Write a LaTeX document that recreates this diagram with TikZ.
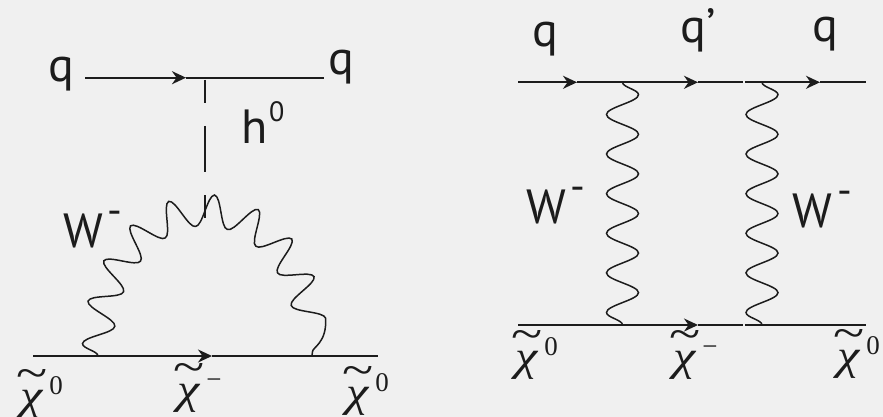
\RequirePackage{fix-cm}
\documentclass[tikz,border=0pt]{standalone}
\usepackage{fontspec}
\setmainfont{PT Sans}
\newfontfamily\chifont{Liberation Serif}
\usetikzlibrary{arrows.meta, decorations.pathmorphing}
\definecolor{PageGrey}{RGB}{240, 240, 240}
\definecolor{LineDark}{RGB}{28, 28, 28}
\newcommand{\wminus}{W\hspace{5pt}\raisebox{23pt}{\fontsize{41}{43}\selectfont -}}
\newcommand{\hzero}{h\hspace{1pt}\raisebox{21pt}{\fontsize{28}{30}\selectfont 0}}
\newcommand{\chisym}[2]{\makebox[25pt][c]{\scalebox{1.2}[1]{\itshape χ}}\llap{\makebox[25pt][c]{\raisebox{21pt}{\scalebox{1.25}[1]{\fontsize{46}{48}\selectfont\char"7E}}}}\hspace{5pt}\raisebox{#2}{\fontsize{27}{30}\selectfont #1}}

\begin{document}
\begin{tikzpicture}[x=1pt, y=-1pt, >={Stealth[length=14pt, width=13pt]},
    fermion/.style={line width=2pt, LineDark},
    wboson/.style={line width=1.5pt, LineDark, decorate, decoration={snake, amplitude=16pt, segment length=39.6pt}},
    higgs/.style={line width=1.6pt, LineDark, dash pattern=on 46pt off 23pt, dash phase=23pt},
    lbl/.style={inner sep=0pt, anchor=base, text=LineDark, font=\fontsize{48}{50}\selectfont},
    chilbl/.style={inner sep=0pt, anchor=base, text=LineDark, font=\chifont\fontsize{42}{46}\selectfont}]
    \useasboundingbox (0,0) rectangle (883,417);
    \fill[PageGrey] (0,0) rectangle (883,417);

    % Left graph
    \coordinate (qin) at (85,77.7);
    \coordinate (qtip) at (186,77.7);
    \coordinate (qout) at (324,77.7);
    \coordinate (hup) at (205,80);
    \coordinate (hlow) at (205,218);
    \coordinate (cin) at (33,356);
    \coordinate (ctip) at (212,356);
    \coordinate (cout) at (378,356);
    \coordinate (wleft) at (98,356);
    \coordinate (wtop) at (205,220);
    \coordinate (wright) at (312,356);
    \draw[fermion, ->] (qin) -- (qtip);
    \draw[fermion] (qtip) -- (qout);
    \draw[higgs] (hup) -- (hlow);
    \draw[fermion, ->] (cin) -- (ctip);
    \draw[fermion] (ctip) -- (cout);
    \draw[wboson, decoration={amplitude=15.5pt, segment length=39.4pt}] (wleft) .. controls +(0,-75) and +(-59,0) .. (wtop) .. controls +(59,0) and +(0,-75) .. (wright);
    \node[lbl] (qa) at (61,82) {q};
    \node[lbl] (qb) at (341,75) {q};
    \node[lbl] (hz) at (263,143) {\hzero};
    \node[lbl] (wa) at (93,247) {\wminus};
    \node[chilbl] (ca) at (41,409) {\chisym{0}{15pt}};
    \node[chilbl] (cb) at (199,403) {\chisym{−}{15pt}};
    \node[chilbl] (cc) at (367,406) {\chisym{0}{15pt}};

    % Right graph
    \coordinate (ula) at (518,82.3);
    \coordinate (utipa) at (577,82.3);
    \coordinate (utipb) at (698,82.3);
    \coordinate (umid) at (743,82.3);
    \coordinate (umidb) at (745,82.3);
    \coordinate (utipc) at (820,82.3);
    \coordinate (ura) at (866,82.3);
    \coordinate (lla) at (518,325);
    \coordinate (ltip) at (698,325);
    \coordinate (lmid) at (743,325);
    \coordinate (lmidb) at (745,325);
    \coordinate (lra) at (866,325);
    \coordinate (wua) at (622.5,82.3);
    \coordinate (wla) at (622.5,325);
    \coordinate (wub) at (762,82.3);
    \coordinate (wlb) at (762,325);
    \draw[fermion, ->] (ula) -- (utipa);
    \draw[fermion, ->] (utipa) -- (utipb);
    \draw[fermion] (utipb) -- (umid);
    \draw[fermion, ->] (umidb) -- (utipc);
    \draw[fermion] (utipc) -- (ura);
    \draw[fermion, ->] (lla) -- (ltip);
    \draw[fermion] (ltip) -- (lmid);
    \draw[fermion] (lmidb) -- (lra);
    \draw[wboson] (wua) -- (wla);
    \draw[wboson] (wub) -- (wlb);
    \node[lbl] (qc) at (545,47) {q};
    \node[lbl] (qd) at (698,43) {q’};
    \node[lbl] (qe) at (825,42) {q};
    \node[lbl] (wb) at (556,223) {\wminus};
    \node[lbl] (wc) at (822,227) {\wminus};
    \node[chilbl] (cd) at (536,370) {\chisym{0}{15pt}};
    \node[chilbl] (ce) at (695,370) {\chisym{−}{15pt}};
    \node[chilbl] (cf) at (858,369) {\chisym{0}{15pt}};
\end{tikzpicture}
\end{document}
